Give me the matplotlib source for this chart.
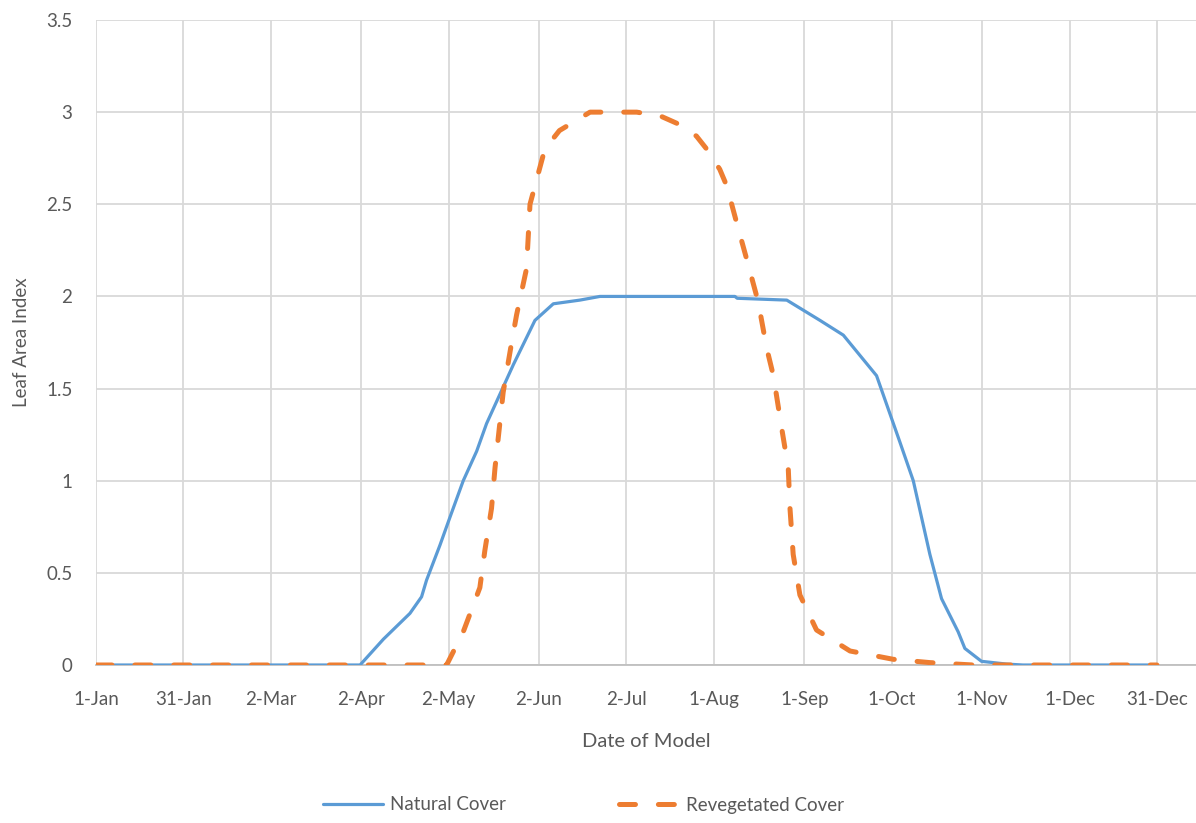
import matplotlib.pyplot as plt

# day of year (0 = 1-Jan) and leaf area index for both covers
natural_day = [0, 90.6, 98.6, 107.7, 111.7, 113.4, 118, 121.4, 126, 130.6, 134, 143.2,
               150.6, 156.9, 166, 172.9, 219.2, 220, 237, 248.4, 256.4, 267.8, 275.8,
               280.4, 286.1, 290.1, 295.8, 298.1, 303.8, 312.4, 318, 364]
natural_lai = [0, 0, 0.14, 0.28, 0.37, 0.46, 0.65, 0.80, 1.0, 1.16, 1.31, 1.63,
               1.87, 1.96, 1.98, 2.0, 2.0, 1.99, 1.98, 1.87, 1.79, 1.57, 1.21,
               1.0, 0.60, 0.36, 0.18, 0.09, 0.02, 0.005, 0, 0]

reveg_day = [0, 120.3, 126, 131.7, 133.4, 135.7, 136.9, 139.7, 142.6, 144.3, 147.7,
             148.9, 154, 159, 169.5, 185.5, 193.5, 199.2, 206, 209.5, 214, 216.4,
             219.8, 223.8, 227.2, 230.1, 232.4, 235.2, 237.5, 238.1, 239.2, 241.5,
             247.2, 258.7, 273.5, 286.1, 301, 364]
reveg_lai = [0, 0, 0.18, 0.42, 0.62, 0.85, 1.07, 1.48, 1.75, 1.90, 2.15,
             2.5, 2.8, 2.9, 3.0, 3.0, 2.98, 2.94, 2.87, 2.80, 2.69, 2.60,
             2.40, 2.17, 1.97, 1.72, 1.57, 1.29, 1.07, 0.85, 0.60, 0.38,
             0.19, 0.076, 0.031, 0.013, 0, 0]

tick_days = [0, 30, 60, 91, 121, 152, 182, 212, 243, 273, 304, 334, 364]
tick_labels = ['1-Jan', '31-Jan', '2-Mar', '2-Apr', '2-May', '2-Jun', '2-Jul',
               '1-Aug', '1-Sep', '1-Oct', '1-Nov', '1-Dec', '31-Dec']

plt.rcParams['font.family'] = ['Lato', 'DejaVu Sans']
plt.rcParams['lines.scale_dashes'] = False
txt = '#595959'
grid = '#d9d9d9'

fig = plt.figure(figsize=(11.96, 8.23), dpi=100)
ax = fig.add_axes([96 / 1196, 1 - 665 / 823, 1 - 96 / 1196, (665 - 20) / 823])

ax.plot(natural_day, natural_lai, color='#5b9bd5', lw=2.3, solid_capstyle='round',
        label='Natural Cover', zorder=3)
ax.plot(reveg_day, reveg_lai, color='#ed7d31', lw=3.6, dashes=(11.5, 16.5),
        dash_capstyle='round', label='Revegetated Cover', zorder=4)

ax.set_xlim(0, 377.4)
ax.set_ylim(0, 3.5)
ax.set_xticks(tick_days)
ax.set_xticklabels(tick_labels)
ax.set_yticks([0, 0.5, 1, 1.5, 2, 2.5, 3, 3.5])
ax.set_yticklabels(['0', '0.5', '1', '1.5', '2', '2.5', '3', '3.5'])

ax.grid(True, color=grid, lw=1.3, zorder=0)
ax.set_axisbelow(True)
for s in ['top', 'right', 'left']:
    ax.spines[s].set_visible(False)
ax.spines['bottom'].set_color('#bfbfbf')
ax.spines['bottom'].set_linewidth(1.3)
ax.tick_params(axis='both', length=0, labelsize=13.5, colors=txt)
ax.tick_params(axis='y', pad=17)
ax.tick_params(axis='x', pad=19)

ax.set_xlabel('Date of Model', fontsize=14.5, color=txt, labelpad=18)
ax.set_ylabel('Leaf Area Index', fontsize=13.5, color=txt)
ax.yaxis.set_label_coords(-0.06, 0.5)

fig.legend(loc='center', bbox_to_anchor=(0.488, 1 - 805 / 823), ncol=2, frameon=False,
           fontsize=13.5, labelcolor=txt, handlelength=3.2, columnspacing=6.0,
           handletextpad=0.4)

fig.savefig('out.png', dpi=100)
